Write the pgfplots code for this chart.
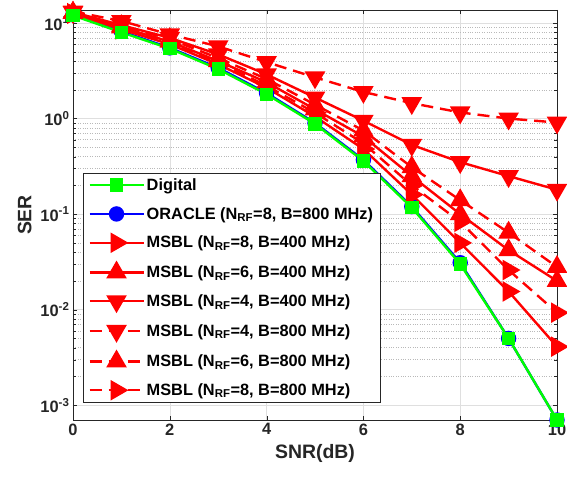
\documentclass[border=0pt]{standalone}
\usepackage{pgfplots}
\pgfplotsset{compat=1.18}
\usepackage{fontspec}
\setmainfont{Liberation Sans}
\definecolor{mgreen}{rgb}{0,1,0}
\definecolor{mblue}{rgb}{0,0,1}
\definecolor{mred}{rgb}{1,0,0}
\definecolor{axgray}{rgb}{0.15,0.15,0.15}
\begin{document}
\begin{tikzpicture}
\begin{axis}[
  scale only axis, width=484bp, height=410bp,
  ymode=log, xmin=0, xmax=10, ymin=7e-4, ymax=13.7,
  xtick={0,2,4,6,8,10},
  ytick={0.001,0.01,0.1,1,10},
  yticklabels={10\textsuperscript{-3},10\textsuperscript{-2},10\textsuperscript{-1},10\textsuperscript{0},10\textsuperscript{1}},
  /pgf/number format/assume math mode=true,
  tick label style={font=\bfseries\fontsize{16.5}{18}\selectfont, text=axgray},
  label style={font=\bfseries\fontsize{19.5}{22}\selectfont, text=axgray},
  xlabel={SNR(dB)}, ylabel={SER},
  xlabel style={yshift=-2bp},
  ylabel style={yshift=2bp},
  tick align=inside, axis line style={axgray, line width=0.6bp},
  major tick style={axgray}, minor tick style={axgray},
  grid=both, major grid style={gray!25, line width=0.6bp},
  minor grid style={gray!55, dotted, line width=0.6bp},
  minor x tick num=0,
  every axis plot/.append style={line width=2.4bp},
  legend cell align=left,
  legend style={at={(0.0207,0.602)}, anchor=north west, draw=axgray, line width=0.6bp,
    font=\bfseries\fontsize{16.4}{18}\selectfont, inner xsep=5bp, inner ysep=3bp,
    row sep=11.5bp},
  legend image code/.code={\draw[mark repeat=2, mark phase=2, #1] plot coordinates {(0bp,0bp)(27bp,0bp)(54bp,0bp)};},
  dashpat/.style={dash pattern=on 12bp off 7bp},
]
\addlegendimage{mgreen, mark=square*, mark size=5.5bp, mark options={solid}}
\addlegendentry{Digital}
\addplot[mblue, mark=*, mark size=6.5bp, mark options={solid}, line width=2.4bp] coordinates {
(0,12.2)(1,8.2)(2,5.5)(3,3.4)(4,1.85)(5,0.9)(6,0.37)(7,0.12)(8,0.031)(9,0.0050)(10,0.0007)};
\addlegendentry{ORACLE (N\textsubscript{RF}=8, B=800 MHz)}
\addplot[mred, mark=triangle*, mark size=9.5bp, mark options={solid, rotate=-90}] coordinates {
(0,12.5)(1,8.6)(2,6.0)(3,3.7)(4,2.1)(5,1.05)(6,0.48)(7,0.16)(8,0.050)(9,0.0155)(10,0.0041)};
\addlegendentry{MSBL (N\textsubscript{RF}=8, B=400 MHz)}
\addplot[mred, mark=triangle*, mark size=9.5bp, mark options={solid}] coordinates {
(0,12.8)(1,9.0)(2,6.4)(3,4.0)(4,2.4)(5,1.25)(6,0.65)(7,0.25)(8,0.10)(9,0.042)(10,0.020)};
\addlegendentry{MSBL (N\textsubscript{RF}=6, B=400 MHz)}
\addplot[mred, mark=triangle*, mark size=9.5bp, mark options={solid, rotate=180}] coordinates {
(0,13.0)(1,9.5)(2,7.0)(3,4.7)(4,2.9)(5,1.66)(6,0.95)(7,0.53)(8,0.35)(9,0.25)(10,0.18)};
\addlegendentry{MSBL (N\textsubscript{RF}=4, B=400 MHz)}
\addplot[mred, dashpat, mark=triangle*, mark size=9.5bp, mark options={solid, rotate=180}] coordinates {
(0,13.2)(1,10.5)(2,7.6)(3,5.7)(4,3.9)(5,2.7)(6,1.9)(7,1.45)(8,1.16)(9,1.0)(10,0.91)};
\addlegendentry{MSBL (N\textsubscript{RF}=4, B=800 MHz)}
\addplot[mred, dashpat, mark=triangle*, mark size=9.5bp, mark options={solid}] coordinates {
(0,12.9)(1,9.3)(2,6.8)(3,4.3)(4,2.6)(5,1.4)(6,0.75)(7,0.31)(8,0.14)(9,0.064)(10,0.028)};
\addlegendentry{MSBL (N\textsubscript{RF}=6, B=800 MHz)}
\addplot[mred, dashpat, mark=triangle*, mark size=9.5bp, mark options={solid, rotate=-90}] coordinates {
(0,12.7)(1,8.8)(2,6.2)(3,3.9)(4,2.2)(5,1.15)(6,0.55)(7,0.20)(8,0.083)(9,0.026)(10,0.0093)};
\addlegendentry{MSBL (N\textsubscript{RF}=8, B=800 MHz)}
\addplot[mgreen, mark=square*, mark size=5.5bp, mark options={solid}, forget plot] coordinates {
(0,12.0)(1,8.0)(2,5.4)(3,3.3)(4,1.8)(5,0.88)(6,0.36)(7,0.117)(8,0.030)(9,0.0050)(10,0.0007)};
\end{axis}
\pgfresetboundingbox
\path ([shift={(-73bp,-59bp)}]current axis.south west) rectangle ([shift={(10bp,10bp)}]current axis.north east);
\end{tikzpicture}
\end{document}
